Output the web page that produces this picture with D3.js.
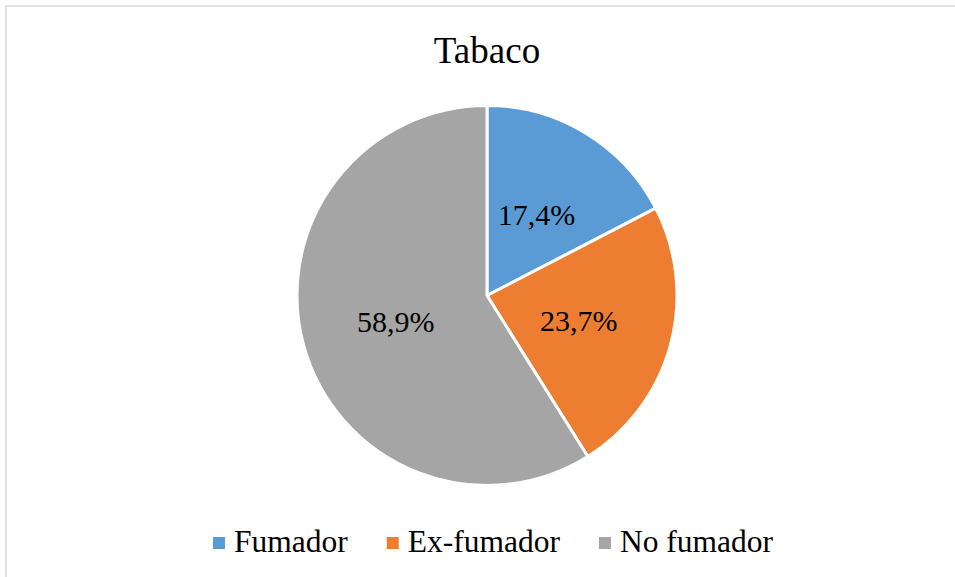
<!DOCTYPE html>
<html><head><meta charset="utf-8">
<script src="https://cdn.jsdelivr.net/npm/d3@7"></script>
<style>html,body{margin:0;padding:0;background:#fff;} text{font-family:"Liberation Serif","Times New Roman",Times,serif;}</style>
</head><body>
<svg id="chart" width="955" height="577"></svg>
<script>
const categories = ["Fumador", "Ex-fumador", "No fumador"];
const values = [17.4, 23.7, 58.9];
const labels = ["17,4%", "23,7%", "58,9%"];
const colors = ["#5B9BD5", "#ED7D31", "#A5A5A5"];
const title = "Tabaco";

const svg = d3.select("#chart");

svg.append("rect").attr("x", 6).attr("y", 6).attr("width", 960).attr("height", 590)
  .attr("fill", "#fff").attr("stroke", "#D9D9D9").attr("stroke-width", 1.5);

svg.append("text").attr("x", 487).attr("y", 63).attr("text-anchor", "middle")
  .style("font-size", "37px").attr("fill", "#000").text(title);

const cx = 487, cy = 295.5, r = 190;
const data = categories.map((c, i) => ({cat: c, value: values[i], label: labels[i], color: colors[i]}));
const pie = d3.pie().value(d => d.value).sort(null);
const arc = d3.arc().innerRadius(0).outerRadius(r);
const g = svg.append("g").attr("transform", `translate(${cx},${cy})`);
const arcs = pie(data);
g.selectAll("path").data(arcs).enter().append("path")
  .attr("d", arc).attr("fill", d => d.data.color)
  .attr("stroke", "#fff").attr("stroke-width", 3).attr("stroke-linejoin", "round");

const lr = 95;
g.selectAll("text.lbl").data(arcs).enter().append("text").attr("class", "lbl")
  .attr("x", d => lr * Math.sin((d.startAngle + d.endAngle) / 2))
  .attr("y", d => -lr * Math.cos((d.startAngle + d.endAngle) / 2))
  .attr("dy", "0.34em").attr("text-anchor", "middle")
  .style("font-size", "30px").attr("fill", "#000")
  .text(d => d.data.label);

// legend
const legendFont = 31.5;
const legend = svg.append("g");
const tmp = svg.append("text").style("font-size", legendFont + "px");
const widths = categories.map(c => { tmp.text(c); return tmp.node().getComputedTextLength(); });
tmp.remove();
const sq = 12, gapSq = 9, gapItem = 39;
const itemW = widths.map(w => sq + gapSq + w);
const total = d3.sum(itemW) + gapItem * (categories.length - 1);
let x = 493 - total / 2;
categories.forEach((c, i) => {
  legend.append("rect").attr("x", x).attr("y", 537).attr("width", sq).attr("height", sq).attr("fill", colors[i]);
  legend.append("text").attr("x", x + sq + gapSq).attr("y", 552)
    .style("font-size", legendFont + "px").attr("fill", "#000").text(c);
  x += itemW[i] + gapItem;
});
</script>
</body></html>
